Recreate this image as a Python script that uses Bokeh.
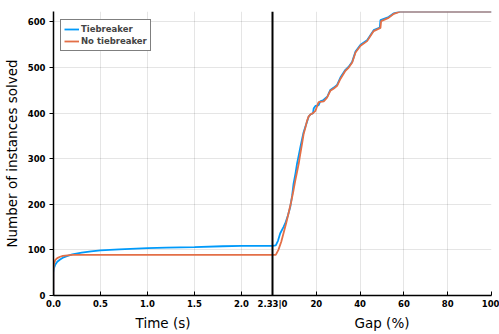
from bokeh.plotting import figure
from bokeh.layouts import column
from bokeh.models import Range1d, FixedTicker, Legend, LegendItem, Span
from bokeh.core.properties import value
from bokeh.embed import file_html
from bokeh.resources import INLINE

# ---------------- data ----------------
T_MAX = 2.33          # time limit (s) where the time panel ends
Y_MAX = 623           # total instances

# Tiebreaker: time part (s, solved)
tb_time = [0, 0, 0.005, 0.02, 0.04, 0.07, 0.1, 0.15, 0.2, 0.3, 0.4, 0.5, 0.7, 1.0, 1.2, 1.5, 1.8, 2.0, 2.2, 2.33]
tb_time_solved = [0, 50, 60, 68, 74, 79, 83, 87, 90, 94, 97, 99, 101, 104, 105, 106, 108, 109, 109, 109]
# Tiebreaker: gap part (%, solved)
tb_gap = [0, 1.5, 2.5, 3.5, 5, 5.8, 7, 8.1, 9, 9.6, 10.5, 11.2, 12, 12.7, 13.5, 14.2, 15, 15.7, 16.5, 17.3,
          18.5, 18.8, 19.6, 21, 21.8, 23, 25, 26.4, 28, 29.5, 31, 33.3, 34.8, 36.4, 37.9, 40.2, 43.2, 44.7,
          46.2, 49.0, 49.3, 53, 55.4, 58.5, 100]
tb_gap_solved = [109, 110, 120, 136, 150, 158, 175, 194, 220, 245, 268, 289, 308, 325, 343, 358, 370, 380, 392, 397,
                 400, 410, 416, 417, 426, 428, 436, 451, 456, 462, 478, 495, 502, 513, 535, 550, 560, 571,
                 582, 588, 604, 611, 619, 623, 623]

# No tiebreaker: time part
nt_time = [0, 0, 0.005, 0.02, 0.04, 0.07, 0.1, 0.15, 0.2, 0.3, 2.33]
nt_time_solved = [0, 58, 70, 78, 82, 85, 87, 88, 89, 89, 89]
# No tiebreaker: gap part
nt_gap = [0, 1.5, 2.7, 4, 5, 6.2, 7.3, 8.5, 9.6, 10.4, 11.2, 12, 12.7, 13.5, 14.2, 15, 15.7, 16.5, 17.3,
          18.5, 19.6, 21, 23.4, 24.9, 26.4, 28, 29.5, 31, 33.3, 34.8, 36.4, 37.9, 40.2, 43.2, 44.7,
          46.2, 49.3, 49.6, 53, 55.4, 58.5, 100]
nt_gap_solved = [89, 89, 100, 118, 136, 158, 180, 205, 231, 252, 271, 290, 311, 333, 354, 368, 382, 393, 397,
                 400, 405, 424, 426, 434, 449, 454, 460, 475, 493, 500, 511, 533, 548, 558, 569,
                 580, 587, 602, 609, 618, 623, 623]

time_ticks = [0, 0.5, 1.0, 1.5, 2.0, 2.33]
time_tick_labels = ["0.0", "0.5", "1.0", "1.5", "2.0", "2.33|0"]
gap_ticks = [20, 40, 60, 80, 100]
gap_tick_labels = ["20", "40", "60", "80", "100"]
y_ticks = [0, 100, 200, 300, 400, 500, 600]

x_titles = ["Time (s)", "Gap (%)"]
y_title = "Number of instances solved"
legend_labels = ["Tiebreaker", "No tiebreaker"]

BLUE = "#009AFA"
ORANGE = "#E36F47"
FONT = "DejaVu Sans"

# ---------------- main figure ----------------
x_range = Range1d(0, 2 * T_MAX)
p = figure(width=499, height=311, x_range=x_range, y_range=Range1d(0, Y_MAX),
           output_backend="svg", toolbar_location=None,
           min_border_left=53, min_border_right=8, min_border_top=11, min_border_bottom=15)
p.extra_x_ranges = {"gap": Range1d(-100, 100)}
p.outline_line_color = None

# x ticks: time ticks, then gap ticks placed at their shared-axis position
gap_pos = [round(T_MAX + g * T_MAX / 100.0, 6) for g in gap_ticks]
xt = time_ticks + gap_pos
overrides = {}
for tk, l in zip(time_ticks, time_tick_labels):
    overrides[tk] = l
for tk, l in zip(gap_pos, gap_tick_labels):
    overrides[tk] = l

xa = p.xaxis[0]
xa.ticker = FixedTicker(ticks=xt)
xa.major_label_overrides = overrides
xa.major_tick_in = 4
xa.major_tick_out = 0
xa.major_label_standoff = 3
ya = p.yaxis[0]
ya.ticker = FixedTicker(ticks=y_ticks)
ya.major_tick_in = 0
ya.major_tick_out = 4
ya.major_label_standoff = 4
ya.axis_label = y_title
ya.axis_label_standoff = 5
ya.axis_label_text_font = FONT
ya.axis_label_text_font_size = "13.5px"
ya.axis_label_text_font_style = "normal"
ya.axis_label_text_color = "black"
for ax in (xa, ya):
    ax.minor_tick_line_color = None
    ax.axis_line_color = "black"
    ax.axis_line_width = 1.5
    ax.major_tick_line_color = "black"
    ax.major_tick_line_width = 1
    ax.major_label_text_font = FONT
    ax.major_label_text_font_size = "8.5px"
    ax.major_label_text_font_style = "bold"
    ax.major_label_text_color = "black"

p.xgrid.ticker = FixedTicker(ticks=xt)
p.ygrid.ticker = FixedTicker(ticks=y_ticks)
for g in (p.xgrid[0], p.ygrid[0]):
    g.grid_line_color = "black"
    g.grid_line_alpha = 0.1
    g.grid_line_width = 1

# curves
b1 = p.line(tb_time, tb_time_solved, line_color=BLUE, line_width=1.8)
b2 = p.line(tb_gap, tb_gap_solved, line_color=BLUE, line_width=1.8, x_range_name="gap")
o1 = p.line(nt_time, nt_time_solved, line_color=ORANGE, line_width=1.8)
o2 = p.line(nt_gap, nt_gap_solved, line_color=ORANGE, line_width=1.8, x_range_name="gap")

p.add_layout(Span(location=T_MAX, dimension="height", line_color="black", line_width=2))

# legend
legend = Legend(items=[LegendItem(label=legend_labels[0], renderers=[b1]),
                       LegendItem(label=legend_labels[1], renderers=[o1])],
                location=(7, 244))
legend.label_text_font = FONT
legend.label_text_font_size = "8.5px"
legend.label_text_font_style = "bold"
legend.glyph_width = 15
legend.glyph_height = 12
legend.label_height = 12
legend.label_standoff = 2
legend.padding = 3
legend.spacing = 0
legend.margin = 0
legend.border_line_color = "black"
legend.border_line_width = 1
legend.background_fill_color = "white"
legend.background_fill_alpha = 1
p.add_layout(legend)

# ---------------- strip with the two x-axis titles ----------------
t = figure(width=499, height=23, x_range=x_range, y_range=Range1d(0, 23),
           output_backend="svg", toolbar_location=None,
           min_border_left=53, min_border_right=8, min_border_top=0, min_border_bottom=0)
t.axis.visible = False
t.grid.visible = False
t.outline_line_color = None
t.text(x=[T_MAX / 2, T_MAX * 1.5], y=[12, 12], text=x_titles,
       text_align="center", text_baseline="alphabetic",
       text_font=value(FONT), text_font_size="13.5px", text_color="black")

layout = column(p, t, spacing=0)
open("out.html", "w").write(file_html(layout, INLINE))
